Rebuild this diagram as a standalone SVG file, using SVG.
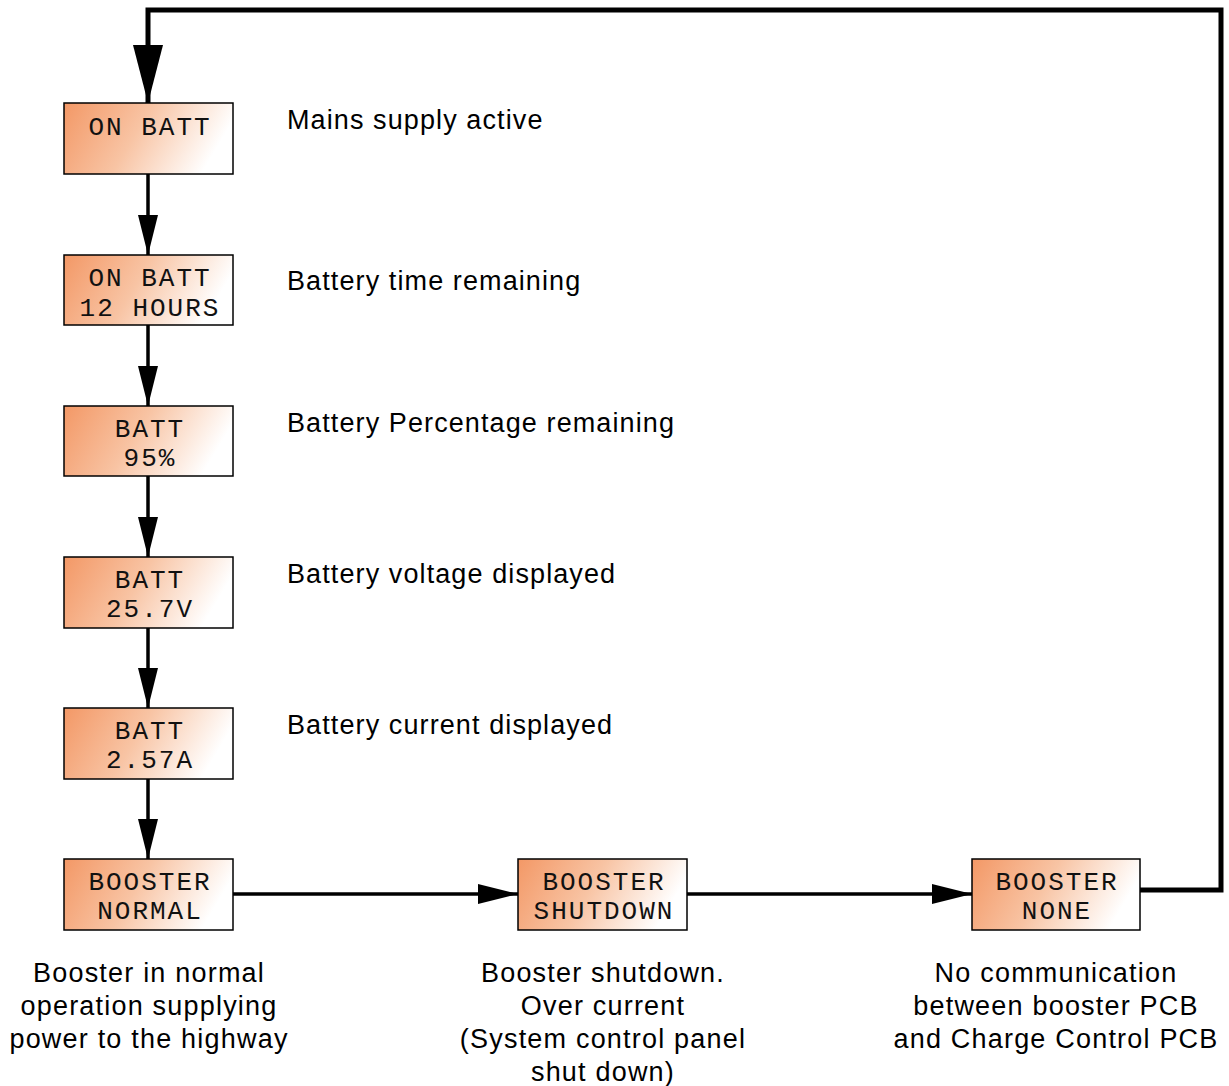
<svg xmlns="http://www.w3.org/2000/svg" width="1229" height="1086" viewBox="0 0 1229 1086">
<defs>
<linearGradient id="g" x1="0" y1="0" x2="1" y2="0.25">
<stop offset="0" stop-color="#F39866"/>
<stop offset="0.5" stop-color="#F8C4A4"/>
<stop offset="1" stop-color="#FFFFFF"/>
</linearGradient>
<marker id="a" markerWidth="40" markerHeight="20" refX="40" refY="10" orient="auto" markerUnits="userSpaceOnUse" viewBox="0 0 40 20">
<path d="M0,0 L40,10 L0,20 Z" fill="#000"/>
</marker>
<marker id="b" markerWidth="58" markerHeight="30" refX="58" refY="15" orient="auto" markerUnits="userSpaceOnUse" viewBox="0 0 58 30">
<path d="M0,0 L58,15 L0,30 Z" fill="#000"/>
</marker>
</defs>
<style>
.box{fill:url(#g);stroke:#000;stroke-width:1.5}
.lcd{font-family:"Liberation Mono","DejaVu Sans Mono",monospace;font-size:26px;letter-spacing:2px;fill:#111;text-anchor:middle}
.d{font-family:"Liberation Sans",Arial,sans-serif;font-size:27px;letter-spacing:1.1px;fill:#000}
.c{font-family:"Liberation Sans",Arial,sans-serif;font-size:27px;letter-spacing:1.2px;fill:#000;text-anchor:middle}
.ln{stroke:#000;stroke-width:3.5;fill:none}
</style>
<rect width="1229" height="1086" fill="#fff"/>
<g id="connectors">
<path class="ln" d="M148,174 V255" marker-end="url(#a)"/>
<path class="ln" d="M148,325 V406" marker-end="url(#a)"/>
<path class="ln" d="M148,476 V557" marker-end="url(#a)"/>
<path class="ln" d="M148,628 V708" marker-end="url(#a)"/>
<path class="ln" d="M148,779 V859" marker-end="url(#a)"/>
<path class="ln" d="M233,894 H518" marker-end="url(#a)"/>
<path class="ln" d="M687,894 H972" marker-end="url(#a)"/>
<path d="M1140,890 H1221 V10 H148 V103" fill="none" stroke="#000" stroke-width="5" marker-end="url(#b)"/>
</g>
<g id="n1"><rect class="box" x="64" y="103" width="169" height="71"/><text class="lcd" x="150" y="135">ON BATT</text></g>
<g id="n2"><rect class="box" x="64" y="255" width="169" height="70"/><text class="lcd" x="150" y="286">ON BATT</text><text class="lcd" x="150" y="316">12 HOURS</text></g>
<g id="n3"><rect class="box" x="64" y="406" width="169" height="70"/><text class="lcd" x="150" y="437">BATT</text><text class="lcd" x="150" y="466">95%</text></g>
<g id="n4"><rect class="box" x="64" y="557" width="169" height="71"/><text class="lcd" x="150" y="588">BATT</text><text class="lcd" x="150" y="617">25.7V</text></g>
<g id="n5"><rect class="box" x="64" y="708" width="169" height="71"/><text class="lcd" x="150" y="739">BATT</text><text class="lcd" x="150" y="768">2.57A</text></g>
<g id="n6"><rect class="box" x="64" y="859" width="169" height="71"/><text class="lcd" x="150" y="890">BOOSTER</text><text class="lcd" x="150" y="919">NORMAL</text></g>
<g id="n7"><rect class="box" x="518" y="859" width="169" height="71"/><text class="lcd" x="604" y="890">BOOSTER</text><text class="lcd" x="604" y="919">SHUTDOWN</text></g>
<g id="n8"><rect class="box" x="972" y="859" width="168" height="71"/><text class="lcd" x="1057" y="890">BOOSTER</text><text class="lcd" x="1057" y="919">NONE</text></g>
<g id="labels">
<text class="d" x="287" y="129">Mains supply active</text>
<text class="d" x="287" y="290">Battery time remaining</text>
<text class="d" x="287" y="432">Battery Percentage remaining</text>
<text class="d" x="287" y="583">Battery voltage displayed</text>
<text class="d" x="287" y="734">Battery current displayed</text>
<text class="c" x="149" y="982">Booster in normal</text>
<text class="c" x="149" y="1015">operation supplying</text>
<text class="c" x="149" y="1048">power to the highway</text>
<text class="c" x="603" y="982">Booster shutdown.</text>
<text class="c" x="603" y="1015">Over current</text>
<text class="c" x="603" y="1048">(System control panel</text>
<text class="c" x="603" y="1081">shut down)</text>
<text class="c" x="1056" y="982">No communication</text>
<text class="c" x="1056" y="1015">between booster PCB</text>
<text class="c" x="1056" y="1048">and Charge Control PCB</text>
</g>
</svg>
